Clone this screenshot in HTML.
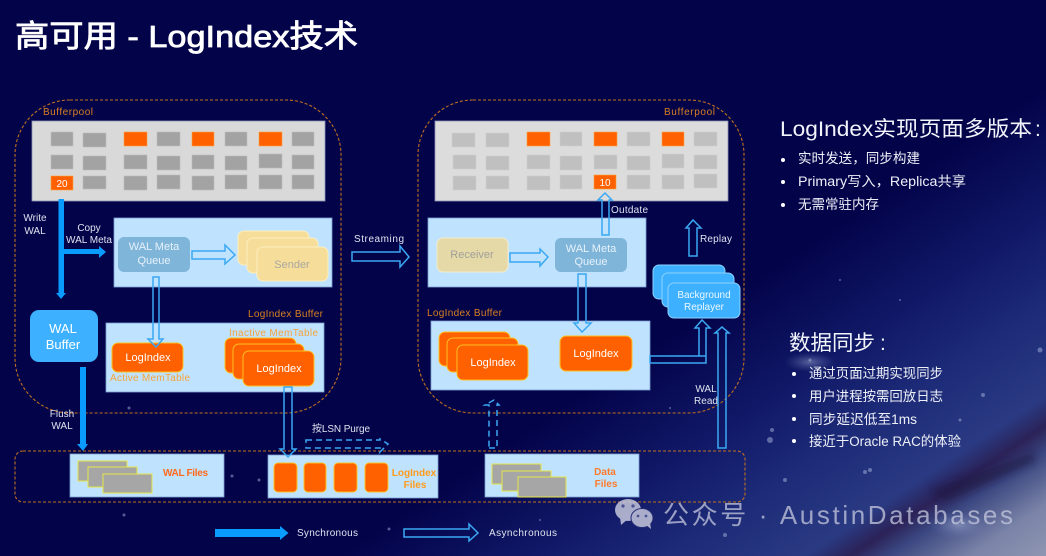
<!DOCTYPE html>
<html lang="zh"><head><meta charset="utf-8"><title>高可用 - LogIndex技术</title>
<style>
html,body{margin:0;padding:0;background:#03034a;width:1046px;height:556px;overflow:hidden}
svg{display:block;filter:blur(.35px)}
text{font-family:"Liberation Sans","Noto Sans CJK SC",sans-serif}
.l{font-size:10px;fill:#dfe3ef}
.o{font-size:10px;fill:#d9801f}
.m{font-size:10px;fill:#f5a33a}
.c{text-anchor:middle}
.w{fill:#fff}
.h{fill:none;stroke:#3aa8f2;stroke-width:1.5}
.hl{fill:none;stroke:#3aa8f2;stroke-width:1.5;stroke-dasharray:6 4}
.s{fill:#0a9bff}
.d{fill:none;stroke:#c0701f;stroke-width:1.1;stroke-dasharray:3 2}
.g{fill:#a3a3a3;stroke:#bdbdbd;stroke-width:.6}
.g2{fill:#c0c0c0;stroke:#cdcdcd;stroke-width:.6}
.or{fill:#ff6000;stroke:#ffa040;stroke-width:.6}
.li{fill:#ff6000;stroke:#ffc020;stroke-width:1}
.pn{fill:#bfe3ff;stroke:#7d9fd0;stroke-width:.8}
.se{fill:#f7dd9a;stroke:#fbeebf;stroke-width:1}
.br{fill:#3db1ff;stroke:#8dd2ff;stroke-width:1}
.fi{fill:#a6a6a6;stroke:#e6e64a;stroke-width:1}
.t{font-size:13.5px;fill:#eef0f8}
.b{fill:#fff}
</style></head><body>
<svg width="1046" height="556" viewBox="0 0 1046 556" xmlns="http://www.w3.org/2000/svg">
<defs>
<linearGradient id="bg" gradientUnits="userSpaceOnUse" x1="800" y1="250" x2="1030" y2="596">
<stop offset="0" stop-color="#03034a"/>
<stop offset=".25" stop-color="#101866"/>
<stop offset=".44" stop-color="#1d2b78"/>
<stop offset=".62" stop-color="#2a3a82"/>
<stop offset=".68" stop-color="#2b2258"/>
<stop offset=".73" stop-color="#3a4680"/>
<stop offset=".84" stop-color="#7b84a8"/>
<stop offset="1" stop-color="#9aa0b8"/>
</linearGradient>
<radialGradient id="glow"><stop offset="0" stop-color="#b8c4e4" stop-opacity=".45"/><stop offset="1" stop-color="#6a78b8" stop-opacity="0"/></radialGradient>
<filter id="sb" x="-10%" y="-30%" width="120%" height="160%"><feGaussianBlur stdDeviation="4"/></filter>
</defs>
<rect width="1046" height="556" fill="url(#bg)"/>
<polygon points="930,490 1035,452 1035,462 945,502" fill="#1a1240" opacity=".6" filter="url(#sb)"/>
<ellipse cx="810" cy="362" rx="26" ry="10" fill="url(#glow)"/>
<ellipse cx="958" cy="525" rx="30" ry="14" fill="url(#glow)"/>
<g fill="#a8b4dc" opacity=".5"><circle cx="810" cy="360" r="1.5"/><circle cx="870" cy="470" r="2"/><circle cx="785" cy="480" r="2"/><circle cx="1040" cy="350" r="2.5"/><circle cx="983" cy="395" r="2"/><circle cx="960" cy="420" r="1.5"/><circle cx="772" cy="430" r="2"/><circle cx="865" cy="472" r="2"/><circle cx="725" cy="535" r="2"/><circle cx="129" cy="408" r="1.5"/><circle cx="232" cy="476" r="1.5"/><circle cx="259" cy="480" r="1.5"/><circle cx="124" cy="515" r="1.5"/><circle cx="389" cy="529" r="1.5"/><circle cx="540" cy="520" r="1"/><circle cx="670" cy="408" r="1"/><circle cx="840" cy="280" r="1"/><circle cx="900" cy="300" r="1"/><circle cx="770" cy="440" r="3"/></g>

<text x="15" y="47" font-size="31" fill="#fff" stroke="#fff" stroke-width=".8" textLength="343" lengthAdjust="spacingAndGlyphs">高可用 - LogIndex技术</text>

<!-- dashed outlines -->
<rect class="d" x="15" y="100" width="326" height="313" rx="55"/>
<rect class="d" x="418" y="100" width="326" height="313" rx="55"/>
<rect class="d" x="15" y="451" width="730" height="51" rx="8"/>

<!-- left bufferpool -->
<text class="o" x="43" y="115" textLength="50">Bufferpool</text>
<rect x="32" y="121" width="293" height="80" fill="#d9d9d9" stroke="#8c93b5" stroke-width=".8"/>
<rect class="g" x="51" y="132" width="22" height="14"/><rect class="g" x="83" y="133" width="23" height="14"/><rect class="or" x="124" y="132" width="23" height="14"/><rect class="g" x="157" y="132" width="23" height="14"/><rect class="or" x="192" y="132" width="22" height="14"/><rect class="g" x="225" y="132" width="22" height="14"/><rect class="or" x="259" y="132" width="23" height="14"/><rect class="g" x="292" y="132" width="22" height="14"/>
<rect class="g" x="51" y="155" width="22" height="14"/><rect class="g" x="83" y="156" width="23" height="14"/><rect class="g" x="124" y="155" width="23" height="14"/><rect class="g" x="157" y="156" width="23" height="14"/><rect class="g" x="192" y="155" width="22" height="14"/><rect class="g" x="225" y="156" width="22" height="14"/><rect class="g" x="259" y="154" width="23" height="14"/><rect class="g" x="292" y="155" width="22" height="14"/>
<rect class="or" x="51" y="176" width="22" height="14"/><rect class="g" x="83" y="176" width="23" height="13"/><rect class="g" x="124" y="176" width="23" height="14"/><rect class="g" x="157" y="175" width="23" height="14"/><rect class="g" x="192" y="176" width="22" height="14"/><rect class="g" x="225" y="175" width="22" height="14"/><rect class="g" x="259" y="175" width="23" height="14"/><rect class="g" x="292" y="175" width="22" height="14"/>
<text class="c w" x="62" y="187" font-size="10">20</text>

<!-- left WAL panel -->
<rect class="pn" x="114" y="218" width="218" height="69"/>
<rect x="118" y="237" width="72" height="35" rx="6" fill="#7fb5d9"/>
<text class="c" x="154" y="250" font-size="11" fill="#e6f2fb">WAL Meta</text><text class="c" x="154" y="264" font-size="11" fill="#e6f2fb">Queue</text>
<rect class="se" x="238" y="231" width="71" height="34" rx="6"/><rect class="se" x="247" y="238" width="71" height="35" rx="6"/><rect class="se" x="257" y="247" width="71" height="34" rx="6"/>
<text class="c" x="292" y="268" font-size="11" fill="#a8a8a0">Sender</text>

<!-- left logindex buffer -->
<text class="o" x="248" y="317" textLength="75">LogIndex Buffer</text>
<rect class="pn" x="106" y="323" width="218" height="69"/>
<text class="m" x="229" y="336" textLength="89">Inactive MemTable</text>
<rect class="li" x="112" y="343" width="71" height="29" rx="6"/>
<text class="c w" x="148" y="361" font-size="11">LogIndex</text>
<text class="m" x="110" y="381" textLength="80">Active MemTable</text>
<rect class="li" x="225" y="338" width="71" height="35" rx="6"/><rect class="li" x="233" y="344" width="71" height="35" rx="6"/><rect class="li" x="243" y="351" width="71" height="35" rx="6"/>
<text class="c w" x="279" y="372" font-size="11">LogIndex</text>

<!-- WAL buffer -->
<rect x="30" y="310" width="68" height="52" rx="9" fill="#3db1ff"/>
<text class="c w" x="63" y="333" font-size="13">WAL</text><text class="c w" x="63" y="349" font-size="13">Buffer</text>

<!-- labels left -->
<text class="l c" x="35" y="221">Write</text><text class="l c" x="35" y="234">WAL</text>
<text class="l c" x="89" y="231">Copy</text><text class="l c" x="89" y="243">WAL Meta</text>
<text class="l c" x="62" y="417">Flush</text><text class="l c" x="62" y="429">WAL</text>
<text class="l" x="312" y="432" textLength="58">按LSN Purge</text>
<text class="l" x="354" y="242" textLength="50">Streaming</text>

<!-- solid arrows -->
<polygon class="s" points="58.5,199 64,199 64,249 99,249 99,246 106,252 99,258 99,254 64,254 64,293 66,293 61,299 56,293 58.5,293"/>
<polygon class="s" points="80,367 86,367 86,444 88,444 83,451 77,444 80,444"/>
<polygon class="s" points="215,529 280,529 280,526 288.5,533 280,540 280,537 215,537"/>

<!-- hollow arrows left -->
<polygon class="h" points="192,251 225,251 225,245 235,255 225,264 225,259 192,259"/>
<polygon class="h" points="153,277 159,277 159,339 163,339 156,347 148,339 153,339"/>
<polygon class="hl" points="306,440 380,440 380,439 388,444 380,452 381,448 306,448"/>
<polygon class="h" points="352,252 400,252 400,246 409,257 400,267 400,261 352,261"/>
<polygon class="h" points="404,529 469,529 469,524 478,533 469,541 469,537 404,537"/>

<!-- right bufferpool -->
<text class="o" x="664" y="115" textLength="51">Bufferpool</text>
<rect x="435" y="121" width="293" height="80" fill="#dcdcdc" stroke="#8c93b5" stroke-width=".8"/>
<rect class="g2" x="452" y="133" width="23" height="14"/><rect class="g2" x="486" y="133" width="23" height="14"/><rect class="or" x="527" y="132" width="23" height="14"/><rect class="g2" x="560" y="132" width="22" height="14"/><rect class="or" x="594" y="132" width="23" height="14"/><rect class="g2" x="627" y="132" width="23" height="14"/><rect class="or" x="662" y="132" width="22" height="14"/><rect class="g2" x="694" y="132" width="23" height="14"/>
<rect class="g2" x="453" y="155" width="23" height="14"/><rect class="g2" x="486" y="156" width="23" height="14"/><rect class="g2" x="527" y="155" width="23" height="14"/><rect class="g2" x="560" y="156" width="22" height="14"/><rect class="g2" x="594" y="155" width="23" height="14"/><rect class="g2" x="627" y="156" width="23" height="14"/><rect class="g2" x="662" y="154" width="22" height="14"/><rect class="g2" x="694" y="155" width="23" height="14"/>
<rect class="g2" x="453" y="176" width="23" height="14"/><rect class="g2" x="486" y="176" width="23" height="13"/><rect class="g2" x="527" y="176" width="23" height="14"/><rect class="g2" x="560" y="175" width="22" height="14"/><rect class="or" x="594" y="175" width="22" height="14"/><rect class="g2" x="627" y="175" width="23" height="14"/><rect class="g2" x="662" y="175" width="22" height="14"/><rect class="g2" x="694" y="174" width="23" height="14"/>
<text class="c w" x="605" y="186" font-size="10">10</text>

<!-- right WAL panel -->
<rect class="pn" x="428" y="218" width="218" height="69"/>
<rect x="437" y="238" width="71" height="34" rx="6" fill="#e6d9a8" stroke="#f2ecc9"/>
<text class="c" x="472" y="258" font-size="11" fill="#a0a09a">Receiver</text>
<rect x="555" y="238" width="72" height="34" rx="6" fill="#7fb5d9"/>
<text class="c" x="591" y="252" font-size="11" fill="#e6f2fb">WAL Meta</text><text class="c" x="591" y="265" font-size="11" fill="#e6f2fb">Queue</text>
<polygon class="h" points="510,253 540,253 540,249 548,257 540,266 540,262 510,262"/>

<!-- right logindex buffer -->
<text class="o" x="427" y="316" textLength="75">LogIndex Buffer</text>
<rect class="pn" x="431" y="321" width="219" height="69"/>
<rect class="li" x="439" y="332" width="71" height="34" rx="6"/><rect class="li" x="447" y="338" width="71" height="34" rx="6"/><rect class="li" x="457" y="345" width="71" height="35" rx="6"/>
<text class="c w" x="493" y="366" font-size="11">LogIndex</text>
<rect class="li" x="560" y="336" width="72" height="35" rx="6"/>
<text class="c w" x="596" y="357" font-size="11">LogIndex</text>

<!-- replayer -->
<rect class="br" x="653" y="265" width="72" height="34" rx="6"/><rect class="br" x="662" y="273" width="72" height="34" rx="6"/><rect class="br" x="668" y="283" width="72" height="35" rx="6"/>
<text class="c" x="704" y="298" font-size="10" fill="#eaf6ff">Background</text><text class="c" x="704" y="310" font-size="10" fill="#eaf6ff">Replayer</text>

<!-- hollow arrows right -->
<polygon class="h" points="602,235 609,235 609,200 612,200 605,193 598,200 602,200"/>
<polygon class="h" points="689,256 697,256 697,228 701,228 693,220 686,228 689,228"/>
<polygon class="h" points="578,274 586,274 586,323 591,323 582,332 574,323 578,323"/>
<polygon class="h" points="650,356 699,356 699,328 695,328 702,320 710,328 706,328 706,363 650,363"/>
<line class="h" x1="699" y1="356" x2="706" y2="356"/>
<polygon class="h" points="718,448 726,448 726,333 729,333 722,327 715,333 718,333"/>
<polygon class="hl" points="489,448 497,448 497,405 499,405 494,400 485,405 489,405"/>

<text class="l" x="611" y="213" textLength="37">Outdate</text>
<text class="l" x="700" y="242" textLength="32">Replay</text>
<text class="l c" x="706" y="392">WAL</text><text class="l c" x="706" y="404">Read</text>

<!-- storage row -->
<rect class="pn" x="70" y="454" width="154" height="43"/>
<rect class="fi" x="78" y="461" width="49" height="20"/><rect class="fi" x="88" y="467" width="49" height="20"/><rect class="fi" x="103" y="474" width="49" height="19"/>
<text x="163" y="476" font-size="10" font-weight="700" fill="#ff6a1a" textLength="45">WAL Files</text>

<rect class="pn" x="268" y="455" width="170" height="43"/>
<rect class="li" x="274" y="463" width="23" height="29" rx="4"/><rect class="li" x="304" y="463" width="22" height="29" rx="4"/><rect class="li" x="334" y="463" width="23" height="29" rx="4"/><rect class="li" x="365" y="463" width="23" height="29" rx="4"/>
<text class="c" x="414" y="476" font-size="10" font-weight="700" fill="#ff9a1a">LogIndex</text><text class="c" x="415" y="488" font-size="10" font-weight="700" fill="#ff9a1a">Files</text>
<polygon class="h" points="284,387 292,387 292,449 296,449 288,457 280,449 284,449"/>

<rect class="pn" x="485" y="454" width="154" height="43"/>
<rect class="fi" x="492" y="464" width="49" height="20"/><rect class="fi" x="502" y="471" width="49" height="20"/><rect class="fi" x="518" y="477" width="48" height="20"/>
<text class="c" x="605" y="475" font-size="10" font-weight="700" fill="#ff7a2a">Data</text><text class="c" x="606" y="487" font-size="10" font-weight="700" fill="#ff7a2a">Files</text>

<!-- legend -->
<text class="l" x="297" y="536" textLength="61">Synchronous</text>
<text class="l" x="489" y="536" textLength="68">Asynchronous</text>

<!-- right text -->
<text x="780" y="136" font-size="21" fill="#f2f4fb" textLength="252" lengthAdjust="spacingAndGlyphs">LogIndex实现页面多版本</text>
<text x="1035" y="136" font-size="21" fill="#f2f4fb">:</text>
<circle class="b" cx="783" cy="160" r="2"/><circle class="b" cx="783" cy="182" r="2"/><circle class="b" cx="783" cy="205" r="2"/>
<text class="t" x="798" y="163" textLength="122" lengthAdjust="spacingAndGlyphs">实时发送&#xFF0C;同步构建</text>
<text class="t" x="798" y="186" textLength="168" lengthAdjust="spacingAndGlyphs">Primary写入&#xFF0C;Replica共享</text>
<text class="t" x="798" y="209" textLength="81" lengthAdjust="spacingAndGlyphs">无需常驻内存</text>

<text x="789" y="350" font-size="21" fill="#f2f4fb" textLength="86" lengthAdjust="spacingAndGlyphs">数据同步</text>
<text x="880" y="350" font-size="21" fill="#f2f4fb">:</text>
<circle class="b" cx="794" cy="374" r="2"/><circle class="b" cx="794" cy="396" r="2"/><circle class="b" cx="794" cy="419" r="2"/><circle class="b" cx="794" cy="441" r="2"/>
<text class="t" x="809" y="378" textLength="134" lengthAdjust="spacingAndGlyphs">通过页面过期实现同步</text>
<text class="t" x="809" y="401" textLength="134" lengthAdjust="spacingAndGlyphs">用户进程按需回放日志</text>
<text class="t" x="809" y="424" textLength="108" lengthAdjust="spacingAndGlyphs">同步延迟低至1ms</text>
<text class="t" x="809" y="446" textLength="152" lengthAdjust="spacingAndGlyphs">接近于Oracle RAC的体验</text>

<!-- watermark -->
<g fill="#d4d6e6" opacity=".78">
<ellipse cx="628" cy="510" rx="13" ry="11"/><polygon points="620,517 621,525 628,519"/>
<ellipse cx="642" cy="518" rx="11" ry="9.5" stroke="#2a3278" stroke-width="1"/><polygon points="646,525 651,529 650,522"/>
</g>
<g fill="#4a5290"><circle cx="623" cy="506" r="1.6"/><circle cx="633" cy="506" r="1.6"/><circle cx="638" cy="516" r="1.4"/><circle cx="646" cy="516" r="1.4"/></g>
<text x="663" y="524" font-size="26" fill="#c6c9de" opacity=".75" textLength="350" lengthAdjust="spacing">公众号 · AustinDatabases</text>
</svg>
</body></html>
